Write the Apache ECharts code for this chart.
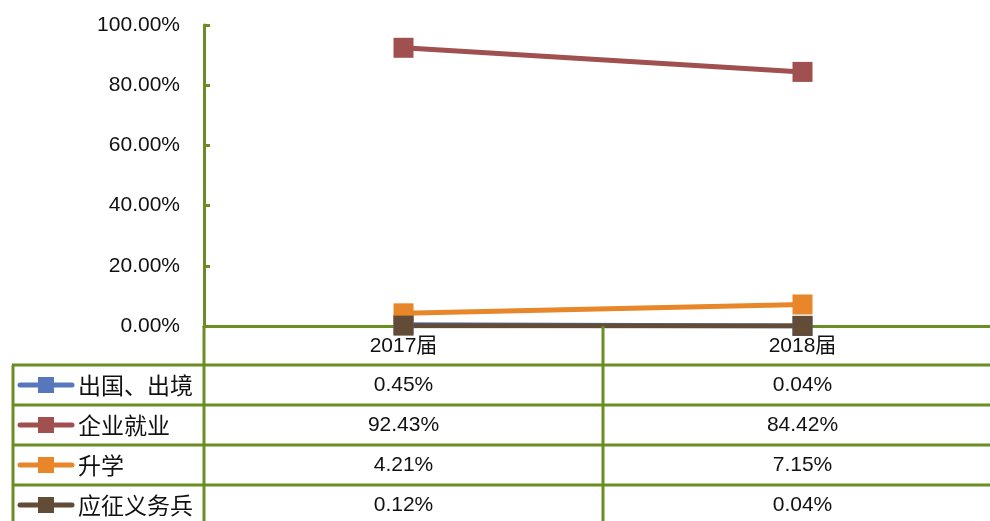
<!DOCTYPE html>
<html>
<head>
<meta charset="utf-8">
<script src="https://cdn.jsdelivr.net/npm/echarts@6/dist/echarts.min.js"></script>
<style>
  html, body { margin: 0; padding: 0; background: #fff; }
  #chart { width: 990px; height: 521px; }
</style>
</head>
<body>
<div id="chart"></div>
<script>
// Graduate destination shares by cohort
var categories = ['2017届', '2018届'];
var seriesNames = ['出国、出境', '企业就业', '升学', '应征义务兵'];
var abroad = [0.45, 0.04];
var employed = [92.43, 84.42];
var furtherStudy = [4.21, 7.15];
var military = [0.12, 0.04];
var yTicks = [0, 20, 40, 60, 80, 100];

var values = [abroad, employed, furtherStudy, military];
var colors = ['#5676BD', '#A0504E', '#E8862A', '#624B37'];
var green = '#6A8E23';
var font = '"Liberation Sans", "Noto Sans CJK SC", sans-serif';
var cjkFont = '"Noto Sans CJK SC", sans-serif';

var chart = echarts.init(document.getElementById('chart'));

var series = seriesNames.map(function (name, i) {
  return {
    name: name,
    type: 'line',
    data: values[i],
    symbol: 'rect',
    symbolSize: 20,
    lineStyle: { color: colors[i], width: 5 },
    itemStyle: { color: colors[i] },
    z: 3
  };
});

chart.setOption({
  animation: false,
  grid: { left: 204, top: 25, height: 301, width: 798, containLabel: false, outerBoundsMode: 'none' },
  xAxis: {
    type: 'category',
    data: categories,
    boundaryGap: true,
    axisLine: { lineStyle: { color: green, width: 3 } },
    axisTick: { show: false },
    axisLabel: { color: '#111', fontSize: 21, fontFamily: font, margin: 10 }
  },
  yAxis: {
    type: 'value',
    min: yTicks[0],
    max: yTicks[yTicks.length - 1],
    interval: yTicks[1] - yTicks[0],
    axisLine: { show: true, lineStyle: { color: green, width: 3 } },
    axisTick: { show: true, inside: true, length: 6, lineStyle: { color: green, width: 3 } },
    splitLine: { show: false },
    axisLabel: {
      color: '#111', fontSize: 21, fontFamily: font, margin: 24,
      formatter: function (v) { return v.toFixed(2) + '%'; }
    }
  },
  series: series
});

// Data table under the plot, aligned to the category axis
var axisY = chart.convertToPixel({ yAxisIndex: 0 }, 0);
var catX = categories.map(function (c, i) { return chart.convertToPixel({ xAxisIndex: 0 }, i); });
var half = (catX[1] - catX[0]) / 2;
var leftEdge = 13;
var rightEdge = 990;
var headerH = 39;
var rowH = 40;
var tableTop = axisY + headerH;

var g = [];
function line(x1, y1, x2, y2) {
  g.push({ type: 'line', shape: { x1: x1, y1: y1, x2: x2, y2: y2 },
    style: { stroke: green, lineWidth: 3 }, z: 10 });
}
// vertical borders
var yAxisX = catX[0] - half;
line(yAxisX, axisY, yAxisX, 521);
line(leftEdge, tableTop, leftEdge, 521);
for (var k = 0; k < categories.length - 1; k++) {
  line(catX[k] + half, axisY, catX[k] + half, 521);
}
// horizontal borders
for (var r = 0; r < seriesNames.length; r++) {
  line(leftEdge - 1, tableTop + r * rowH, rightEdge, tableTop + r * rowH);
}
// rows: legend key, series name, one value per category
seriesNames.forEach(function (name, i) {
  var cy = tableTop + i * rowH + rowH / 2;
  g.push({ type: 'line', shape: { x1: 20, y1: cy, x2: 72, y2: cy },
    style: { stroke: colors[i], lineWidth: 5, lineCap: 'round' }, z: 11 });
  g.push({ type: 'rect', shape: { x: 38, y: cy - 8, width: 16, height: 16 },
    style: { fill: colors[i] }, z: 12 });
  g.push({ type: 'text', x: 78, y: cy,
    style: { text: name, fill: '#111', font: '23px ' + cjkFont, textVerticalAlign: 'middle', textAlign: 'left' }, z: 12 });
  values[i].forEach(function (v, j) {
    g.push({ type: 'text', x: catX[j], y: cy,
      style: { text: v.toFixed(2) + '%', fill: '#111', font: '21px ' + font, textVerticalAlign: 'middle', textAlign: 'center' }, z: 12 });
  });
});

chart.setOption({ graphic: g });
</script>
</body>
</html>
